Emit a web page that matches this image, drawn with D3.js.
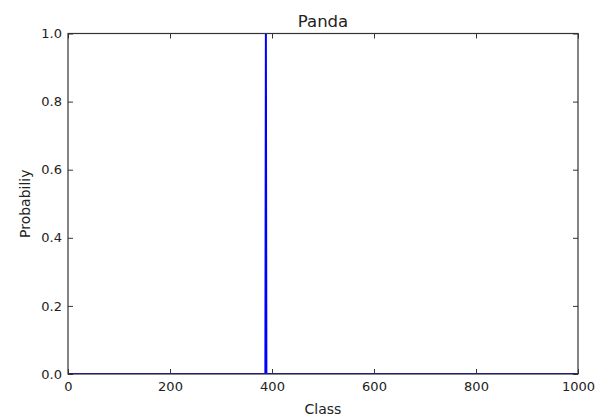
<!DOCTYPE html>
<html>
<head>
<meta charset="utf-8">
<script src="https://cdn.jsdelivr.net/npm/d3@7"></script>
<style>
  body { margin: 0; background: #fff; }
  text { font-family: "DejaVu Sans", sans-serif; fill: #222; }
</style>
</head>
<body>
<div id="chart"></div>
<script>
const width = 596;
const height = 417;
const margin = { top: 33.5, right: 18, bottom: 43, left: 68 };

// class index vs probability (all other classes are 0)
const classIds = [0, 387, 388, 389, 999];
const probs = [0, 0, 1.0, 0, 0];
const xTicks = [0, 200, 400, 600, 800, 1000];
const yTicks = [0.0, 0.2, 0.4, 0.6, 0.8, 1.0];

const svg = d3.select('#chart')
  .append('svg')
    .attr('width', width)
    .attr('height', height);

const x = d3.scaleLinear()
  .domain([0, 1000])
  .range([margin.left, width - margin.right]);

const y = d3.scaleLinear()
  .domain([0, 1])
  .range([height - margin.bottom, margin.top]);

svg.append('clipPath')
    .attr('id', 'clip')
  .append('rect')
    .attr('x', margin.left)
    .attr('y', margin.top)
    .attr('width', x(1000) - x(0))
    .attr('height', y(0) - y(1));

const line = d3.line()
  .x((d, i) => x(classIds[i]))
  .y(d => y(d));

svg.append('path')
    .datum(probs)
    .attr('clip-path', 'url(#clip)')
    .attr('fill', 'none')
    .attr('stroke', '#0000ff')
    .attr('stroke-width', 2)
    .attr('d', line);

function style(g) {
  g.select('.domain').remove();
  g.selectAll('line').attr('stroke', '#333');
  g.selectAll('text').style('font-size', '13px').attr('fill', '#222');
}

// bottom + top
svg.append('g')
    .attr('transform', `translate(0, ${y(0)})`)
    .call(d3.axisBottom(x).tickValues(xTicks).tickFormat(d3.format('d'))
      .tickSize(-5).tickPadding(8))
    .call(style);
svg.append('g')
    .attr('transform', `translate(0, ${y(1)})`)
    .call(d3.axisTop(x).tickValues(xTicks).tickSize(-5).tickFormat(''))
    .call(style);

// left + right
svg.append('g')
    .attr('transform', `translate(${x(0)}, 0)`)
    .call(d3.axisLeft(y).tickValues(yTicks).tickFormat(d3.format('.1f'))
      .tickSize(-5).tickPadding(6))
    .call(style);
svg.append('g')
    .attr('transform', `translate(${x(1000)}, 0)`)
    .call(d3.axisRight(y).tickValues(yTicks).tickSize(-5).tickFormat(''))
    .call(style);

// frame
svg.append('rect')
    .attr('x', x(0))
    .attr('y', y(1))
    .attr('width', x(1000) - x(0))
    .attr('height', y(0) - y(1))
    .attr('fill', 'none')
    .attr('stroke', '#333')
    .attr('stroke-width', 1.2);

svg.append('text')
    .attr('x', (x(0) + x(1000)) / 2)
    .attr('y', 26.5)
    .attr('text-anchor', 'middle')
    .style('font-size', '16.5px')
    .text('Panda');

svg.append('text')
    .attr('x', (x(0) + x(1000)) / 2)
    .attr('y', 413.5)
    .attr('text-anchor', 'middle')
    .style('font-size', '14px')
    .text('Class');

svg.append('text')
    .attr('transform', `translate(30, ${(y(0) + y(1)) / 2}) rotate(-90)`)
    .attr('text-anchor', 'middle')
    .style('font-size', '14px')
    .text('Probabiliy');
</script>
</body>
</html>
